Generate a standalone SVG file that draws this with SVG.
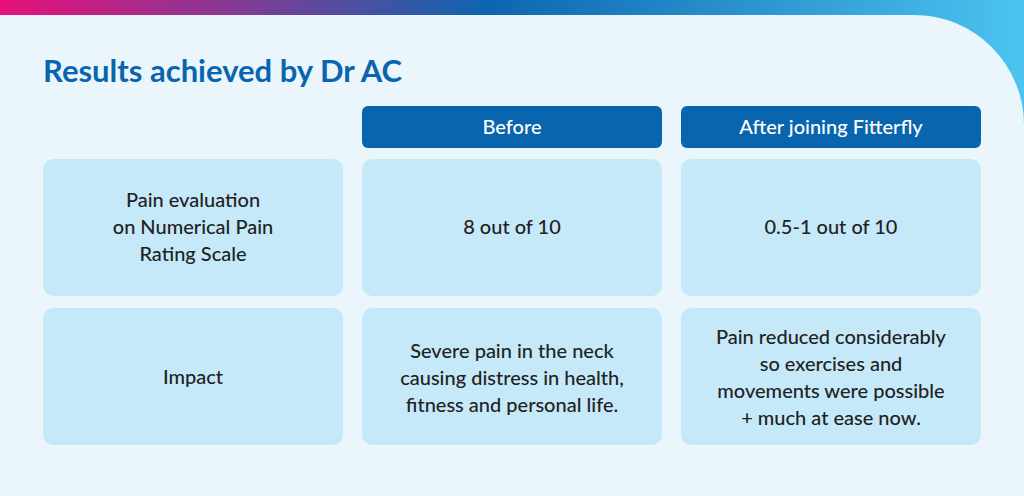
<svg xmlns="http://www.w3.org/2000/svg" width="1024" height="496" viewBox="0 0 1024 496">
<defs>
<linearGradient id="g" x1="0" y1="0" x2="1" y2="0">
<stop offset="0" stop-color="#E8107A"/><stop offset="0.25" stop-color="#7A3E96"/><stop offset="0.48" stop-color="#0D66B0"/><stop offset="1" stop-color="#4CC4F0"/>
</linearGradient>
<style>
.cell{fill:#C6E9FA}
.hdr{fill:#0A65AF}
.t{font-family:"Lato","Liberation Sans",sans-serif;font-size:20px;fill:#222;text-anchor:middle;font-weight:500}
.h{font-family:"Lato","Liberation Sans",sans-serif;font-size:20px;fill:#fff;text-anchor:middle;font-weight:500}
</style>
</defs>
<rect width="1024" height="496" fill="url(#g)"/>
<path d="M0 15 H914 A110 110 0 0 1 1024 125 V496 H0 Z" fill="#EBF6FC"/>
<text x="43" y="82" font-family="Lato,'Liberation Sans',sans-serif" font-size="31" font-weight="bold" fill="#0A65AF">Results achieved by Dr AC</text>
<g id="hdr-before"><rect class="hdr" x="362" y="106" width="300" height="42" rx="6"/><text class="h" x="512" y="134">Before</text></g>
<g id="hdr-after"><rect class="hdr" x="681" y="106" width="300" height="42" rx="6"/><text class="h" x="831" y="134">After joining Fitterfly</text></g>
<g id="r1c1"><rect class="cell" x="43" y="159" width="300" height="137" rx="10"/><text class="t" x="193" y="207">Pain evaluation</text><text class="t" x="193" y="234">on Numerical Pain</text><text class="t" x="193" y="261">Rating Scale</text></g>
<g id="r1c2"><rect class="cell" x="362" y="159" width="300" height="137" rx="10"/><text class="t" x="512" y="234">8 out of 10</text></g>
<g id="r1c3"><rect class="cell" x="681" y="159" width="300" height="137" rx="10"/><text class="t" x="831" y="234">0.5-1 out of 10</text></g>
<g id="r2c1"><rect class="cell" x="43" y="308" width="300" height="137" rx="10"/><text class="t" x="193" y="384">Impact</text></g>
<g id="r2c2"><rect class="cell" x="362" y="308" width="300" height="137" rx="10"/><text class="t" x="512" y="358">Severe pain in the neck</text><text class="t" x="512" y="385">causing distress in health,</text><text class="t" x="512" y="412">fitness and personal life.</text></g>
<g id="r2c3"><rect class="cell" x="681" y="308" width="300" height="137" rx="10"/><text class="t" x="831" y="344">Pain reduced considerably</text><text class="t" x="831" y="371">so exercises and</text><text class="t" x="831" y="398">movements were possible</text><text class="t" x="831" y="425">+ much at ease now.</text></g>
<g id="connectors"/>
</svg>
